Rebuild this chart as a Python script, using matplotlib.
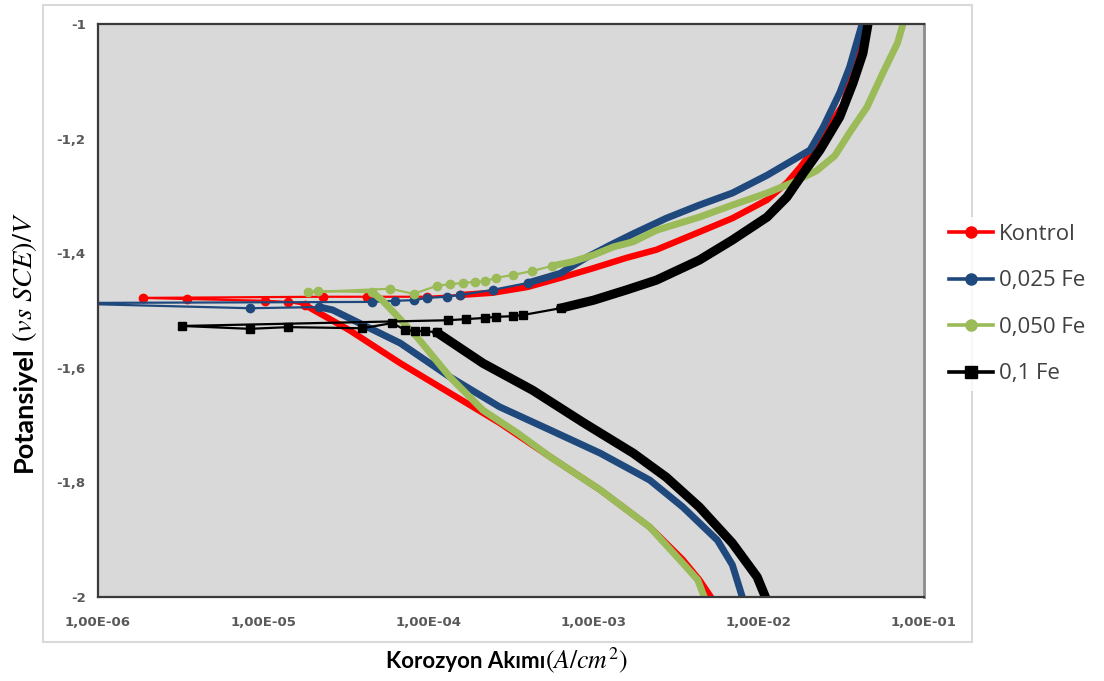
import numpy as np
import matplotlib
matplotlib.use("Agg")
import matplotlib.pyplot as plt
from matplotlib.patches import Rectangle
from matplotlib.ticker import FixedLocator, FixedFormatter

# Tafel data: log10 of current density (A/cm2) and potential (V vs SCE)
# Each series: cathodic branch, scattered points near Ecorr, anodic branch.

kontrol_cat_logi = [-2.29, -2.36, -2.46, -2.66, -2.96, -3.26, -3.57, -3.87, -4.17, -4.48, -4.75]
kontrol_cat_v = [-2.0, -1.970, -1.935, -1.878, -1.813, -1.756, -1.696, -1.644, -1.592, -1.534, -1.490]
kontrol_mid_logi = [-4.85, -4.99, -5.46, -5.73, -4.64, -4.37, -4.01]
kontrol_mid_v = [-1.485, -1.483, -1.480, -1.478, -1.476, -1.476, -1.476]
kontrol_an_logi = [-3.81, -3.61, -3.40, -3.20, -3.00, -2.80, -2.62, -2.36, -2.16, -1.95,
                   -1.83, -1.75, -1.67, -1.49, -1.42, -1.357]
kontrol_an_v = [-1.473, -1.469, -1.459, -1.443, -1.426, -1.408, -1.394, -1.363, -1.339, -1.307,
                -1.277, -1.250, -1.220, -1.141, -1.072, -1.000]

fe025_cat_logi = [-2.10, -2.16, -2.25, -2.46, -2.66, -2.96, -3.26, -3.57, -3.87, -4.17, -4.58, -4.66]
fe025_cat_v = [-2.0, -1.944, -1.901, -1.843, -1.796, -1.749, -1.709, -1.668, -1.616, -1.557, -1.499, -1.494]
fe025_mid_logi = [-5.08, -6.30, -4.34, -4.20, -4.09, -4.01, -3.89, -3.81, -3.61]
fe025_mid_v = [-1.496, -1.487, -1.485, -1.483, -1.482, -1.478, -1.476, -1.473, -1.464]
fe025_an_logi = [-3.40, -3.20, -3.04, -2.90, -2.76, -2.56, -2.36, -2.16, -1.95, -1.79,
                 -1.69, -1.61, -1.51, -1.45, -1.375]
fe025_an_v = [-1.452, -1.435, -1.407, -1.386, -1.366, -1.339, -1.316, -1.295, -1.264, -1.237,
              -1.220, -1.180, -1.120, -1.075, -1.000]

fe050_cat_logi = [-2.33, -2.37, -2.46, -2.66, -2.96, -3.26, -3.46, -3.67, -3.87, -4.07, -4.28, -4.34]
fe050_cat_v = [-2.0, -1.970, -1.941, -1.878, -1.813, -1.756, -1.714, -1.674, -1.616, -1.546, -1.482, -1.468]
fe050_mid_logi = [-4.67, -4.73, -4.23, -4.09, -3.95, -3.87, -3.79, -3.72, -3.66, -3.59, -3.49, -3.37]
fe050_mid_v = [-1.466, -1.468, -1.462, -1.471, -1.457, -1.454, -1.452, -1.450, -1.449, -1.443, -1.438, -1.431]
fe050_an_logi = [-3.25, -3.13, -3.00, -2.88, -2.76, -2.62, -2.36, -2.16, -1.95, -1.79,
                 -1.65, -1.54, -1.44, -1.345, -1.25, -1.16, -1.127]
fe050_an_v = [-1.422, -1.415, -1.403, -1.389, -1.380, -1.360, -1.337, -1.316, -1.295, -1.276,
              -1.256, -1.230, -1.185, -1.145, -1.086, -1.033, -1.000]

fe10_cat_logi = [-1.96, -2.01, -2.16, -2.36, -2.56, -2.76, -3.06, -3.37, -3.67, -3.95]
fe10_cat_v = [-2.0, -1.965, -1.906, -1.843, -1.791, -1.749, -1.696, -1.639, -1.592, -1.538]
fe10_mid_logi = [-4.02, -4.08, -4.14, -4.22, -4.40, -4.85, -5.08, -5.49,
                 -3.88, -3.77, -3.66, -3.59, -3.49, -3.43]
fe10_mid_v = [-1.536, -1.536, -1.534, -1.522, -1.531, -1.529, -1.532, -1.527,
              -1.517, -1.515, -1.513, -1.511, -1.510, -1.508]
fe10_an_logi = [-3.20, -3.00, -2.80, -2.62, -2.36, -2.16, -1.95, -1.83, -1.73, -1.63,
                -1.51, -1.43, -1.37, -1.339]
fe10_an_v = [-1.496, -1.482, -1.464, -1.447, -1.412, -1.377, -1.337, -1.302, -1.260, -1.220,
             -1.162, -1.103, -1.051, -1.000]

labels = ["Kontrol", "0,025 Fe", "0,050 Fe", "0,1 Fe"]
colors = ["#FF0000", "#1F497D", "#9BBB59", "#000000"]
markers = ["o", "o", "o", "s"]
widths = [4.6, 5.0, 5.0, 6.6]

x_ticks = [1e-6, 1e-5, 1e-4, 1e-3, 1e-2, 1e-1]
x_tick_labels = ["1,00E-06", "1,00E-05", "1,00E-04", "1,00E-03", "1,00E-02", "1,00E-01"]
y_ticks = [-2.0, -1.8, -1.6, -1.4, -1.2, -1.0]
y_tick_labels = ["-2", "-1,8", "-1,6", "-1,4", "-1,2", "-1"]

series = [
    (kontrol_cat_logi, kontrol_cat_v, kontrol_mid_logi, kontrol_mid_v, kontrol_an_logi, kontrol_an_v),
    (fe025_cat_logi, fe025_cat_v, fe025_mid_logi, fe025_mid_v, fe025_an_logi, fe025_an_v),
    (fe050_cat_logi, fe050_cat_v, fe050_mid_logi, fe050_mid_v, fe050_an_logi, fe050_an_v),
    (fe10_cat_logi, fe10_cat_v, fe10_mid_logi, fe10_mid_v, fe10_an_logi, fe10_an_v),
]

plt.rcParams["mathtext.fontset"] = "stix"

W, H = 1104, 681
fig = plt.figure(figsize=(W / 100, H / 100), dpi=100)
fig.patch.set_facecolor("white")

# chart frame
fig.add_artist(Rectangle((43 / W, 1 - 642 / H), (972 - 43) / W, (642 - 5) / H,
                         transform=fig.transFigure, fill=False,
                         edgecolor="#d9d9d9", linewidth=1.5, zorder=0))

ax = fig.add_axes([98 / W, 1 - 597 / H, (924 - 98) / W, (597 - 24) / H])
ax.set_facecolor("#d9d9d9")
ax.set_xscale("log")
ax.set_xlim(1e-6, 1e-1)
ax.set_ylim(-2.0, -1.0)

handles = []
for (cl, cv, ml, mv, al, av), lab, col, mk, lw in zip(series, labels, colors, markers, widths):
    cat_i = 10 ** np.array(cl)
    an_i = 10 ** np.array(al)
    mid_i = np.concatenate([[cat_i[-1]], 10 ** np.array(ml), [an_i[0]]])
    mid_v = np.concatenate([[cv[-1]], mv, [av[0]]])
    ax.plot(cat_i, cv, color=col, lw=lw, solid_capstyle="round", solid_joinstyle="round")
    ax.plot(an_i, av, color=col, lw=lw, solid_capstyle="round", solid_joinstyle="round")
    h, = ax.plot(mid_i, mid_v, color=col, lw=1.6, marker=mk,
                 markersize=6 if mk == "o" else 5.5, label=lab)
    handles.append(h)

ax.xaxis.set_major_locator(FixedLocator(x_ticks))
ax.xaxis.set_major_formatter(FixedFormatter(x_tick_labels))
ax.xaxis.set_minor_locator(FixedLocator([]))
ax.yaxis.set_major_locator(FixedLocator(y_ticks))
ax.yaxis.set_major_formatter(FixedFormatter(y_tick_labels))
ax.tick_params(axis="both", length=0, colors="#595959")
ax.tick_params(axis="x", pad=14)
ax.tick_params(axis="y", pad=9)
for t in ax.get_xticklabels() + ax.get_yticklabels():
    t.set_fontfamily(["Liberation Sans Narrow", "DejaVu Sans"])
    t.set_fontweight("bold")
    t.set_fontsize(9.5)
    t.set_color("#595959")

for side in ["left", "top", "bottom"]:
    ax.spines[side].set_color("#3a3a3a")
    ax.spines[side].set_linewidth(1.6)
ax.spines["right"].set_color("#8c8c8c")
ax.spines["right"].set_linewidth(2.0)

# axis titles: bold word followed by an italic math unit
label_font = ["Lato", "DejaVu Sans"]
fig.text(32 / W, 1 - 346 / H, "Potansiyel", rotation=90, rotation_mode="anchor",
         ha="right", va="baseline", fontsize=19.5, fontweight="bold",
         family=label_font, color="#000000")
fig.text(32 / W, 1 - 342 / H, r"$(vs\ SCE)/V$", rotation=90, rotation_mode="anchor",
         ha="left", va="baseline", fontsize=20.5, color="#000000")
fig.text(545 / W, 1 - 668 / H, "Korozyon Akımı", ha="right", va="baseline",
         fontsize=16, fontweight="bold", family=label_font, color="#000000")
fig.text(545 / W, 1 - 668 / H, r"$(A/cm^2)$", ha="left", va="baseline",
         fontsize=18.5, color="#000000")

leg = fig.legend(handles=handles, labels=labels, loc="upper left",
                 bbox_to_anchor=(931 / W, 1 - 206 / H), frameon=True,
                 prop=dict(family=["Open Sans", "DejaVu Sans"], size=16),
                 handlelength=2.0, handletextpad=0.25, labelspacing=1.15,
                 borderpad=0.3, numpoints=1)
leg.get_frame().set_facecolor("white")
leg.get_frame().set_edgecolor("white")
leg.get_frame().set_linewidth(0)
for t in leg.get_texts():
    t.set_color("#404040")
for lh in leg.legend_handles:
    lh.set_linewidth(2.6)
    lh.set_markersize(8)

fig.savefig("out.png", dpi=100, facecolor="white")
